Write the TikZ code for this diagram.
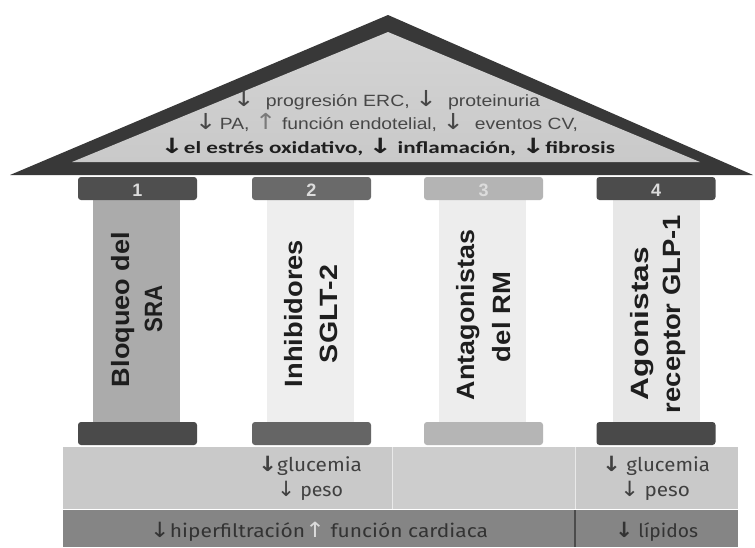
\documentclass[tikz,border=0pt]{standalone}
\usepackage{graphicx}
\usepackage{fontspec}
\setmainfont{Liberation Sans}
\newfontfamily\roofbold{Carlito}
\newfontfamily\basefont{Fira Sans}
\newfontfamily\arrowfont{DejaVu Sans}
\definecolor{roofdark}{HTML}{383838}
\definecolor{rooflight}{HTML}{C9C9C9}
\definecolor{roofhigh}{HTML}{D4D4D4}
\definecolor{roofgray}{HTML}{474747}
\definecolor{uparrow}{HTML}{7A7A7A}
\definecolor{capA}{HTML}{4F4F4F}
\definecolor{capB}{HTML}{6A6A6A}
\definecolor{capC}{HTML}{B4B4B4}
\definecolor{shaftA}{HTML}{ABABAB}
\definecolor{shaftB}{HTML}{EEEEEE}
\definecolor{shaftC}{HTML}{EDEDED}
\definecolor{shaftD}{HTML}{E7E7E7}
\definecolor{numcol}{HTML}{DCDCDC}
\definecolor{bandlight}{HTML}{C9C9C9}
\definecolor{bandlightC}{HTML}{CDCDCD}
\definecolor{banddark}{HTML}{858585}
\definecolor{basetext}{HTML}{404040}
\definecolor{darktext}{HTML}{333333}
\definecolor{pillartext}{HTML}{1E1E1E}
\newcommand{\dnar}[1]{{\arrowfont\fontsize{#1}{#1}\selectfont ↓}}
\newcommand{\dnbold}[1]{{\arrowfont\bfseries\fontsize{#1}{#1}\selectfont ↓}}
\newcommand{\upar}[2]{{\arrowfont\fontsize{#1}{#1}\selectfont\color{#2}↑}}
\newcommand{\fitw}[2]{\resizebox{#1}{\height}{#2}}
\tikzset{
  capbox/.style={rectangle, rounded corners=3pt, minimum width=119pt, minimum height=23pt, inner sep=0pt},
  shaftbox/.style={rectangle, minimum width=87pt, minimum height=222pt, inner sep=0pt},
  numtext/.style={text=numcol, font=\fontsize{18}{20}\selectfont\bfseries, anchor=base, inner sep=0pt},
  rooftext/.style={text=roofgray, font=\fontsize{16.3}{19}\selectfont, anchor=base, inner sep=0pt},
  roofboldtext/.style={text=black!88, font=\roofbold\fontsize{17}{19}\selectfont\bfseries, anchor=base, inner sep=0pt},
  basetxt/.style={text=basetext, font=\basefont\fontsize{19}{21}\selectfont, anchor=base, inner sep=0pt},
  darktxt/.style={text=darktext, font=\basefont\fontsize{18.5}{21}\selectfont, anchor=base, inner sep=0pt},
  pillartxt/.style={text=pillartext, font=\fontsize{25}{28}\selectfont\bfseries, rotate=90, anchor=base, inner sep=0pt}
}
\begin{document}
\begin{tikzpicture}[x=1pt,y=-1pt]
\useasboundingbox (0,0) rectangle (755,547);
\fill[white] (0,0) rectangle (755,547);
% roof
\fill[roofdark] (10,175) -- (388,15) -- (753,175) -- cycle;
\shade[top color=roofhigh, bottom color=rooflight] (72,162) -- (388,32) -- (700,162) -- cycle;
\node[rooftext] (r1) at (386.5,106) {\fitw{307pt}{\dnar{22}\ \ progresión ERC, \dnar{22}\ \ proteinuria}};
\node[rooftext] (r2) at (386.5,129.5) {\fitw{383pt}{\dnar{22}\,PA, \upar{22}{uparrow} función endotelial, \dnar{22}\ \ eventos CV,}};
\node[roofboldtext] (r3) at (387.5,153) {\fitw{455pt}{\dnbold{21}el estrés oxidativo, \dnbold{21} inflamación, \dnbold{21}fibrosis}};
% base bands
\fill[bandlight] (63,447) rectangle (392,509);
\fill[bandlightC] (392,447) rectangle (575,509);
\fill[bandlight] (575,447) rectangle (738,509);
\draw[white!60!bandlight, line width=0.8pt] (392,447) -- (392,509);
\draw[white!60!bandlight, line width=0.8pt] (575,447) -- (575,509);
\fill[banddark] (63,510) rectangle (738,547);
\draw[white, line width=1pt] (63,509.5) -- (738,509.5);
\coordinate (dtop) at (575,510);
\coordinate (dbot) at (575,547);
\draw[roofdark!90, line width=1.6pt] (dtop) -- (dbot);
% shafts
\node[shaftbox, fill=shaftA] (s1) at (136.5,311) {};
\node[shaftbox, fill=shaftB] (s2) at (310,311) {};
\node[shaftbox, fill=shaftC] (s3) at (482,311) {};
\node[shaftbox, fill=shaftD] (s4) at (656,311) {};
% top caps
\node[capbox, fill=capA] (t1) at (137.5,188.5) {};
\node[capbox, fill=capB] (t2) at (311.5,188.5) {};
\node[capbox, fill=capC] (t3) at (483.5,188.5) {};
\node[capbox, fill=capA!96!black] (t4) at (656,188.5) {};
\node[numtext] (n1) at (137.5,196) {1};
\node[numtext] (n2) at (311.5,196) {2};
\node[numtext] (n3) at (483.5,196) {3};
\node[numtext] (n4) at (656,196) {4};
% bottom caps
\node[capbox, fill=capA!94!black] (b1) at (137.5,433.5) {};
\node[capbox, fill=capB!95!black] (b2) at (311.5,433.5) {};
\node[capbox, fill=capC!98!white] (b3) at (483.5,433.5) {};
\node[capbox, fill=capA!92!black] (b4) at (656,433.5) {};
% pillar labels
\node[pillartxt] (p1a) at (129.5,309.5) {\fitw{155pt}{Bloqueo del}};
\node[pillartxt] (p1b) at (162,309) {\fitw{47pt}{SRA}};
\node[pillartxt] (p2a) at (302,313.5) {\fitw{147pt}{Inhibidores}};
\node[pillartxt] (p2b) at (337,314) {\fitw{98pt}{SGLT-2}};
\node[pillartxt] (p3a) at (474,315) {\fitw{170pt}{Antagonistas}};
\node[pillartxt] (p3b) at (510,317) {\fitw{90pt}{del RM}};
\node[pillartxt] (p4a) at (648,323.5) {\fitw{153pt}{Agonistas}};
\node[pillartxt] (p4b) at (680,314) {\fitw{198pt}{receptor GLP-1}};
% base texts
\node[basetxt] (g2) at (310,471.5) {\fitw{104pt}{\dnbold{21}glucemia}};
\node[basetxt] (w2) at (310,496.5) {\fitw{66pt}{\dnar{21}\ peso}};
\node[basetxt] (g4) at (656,471.5) {\fitw{108pt}{\dnbold{21}\ glucemia}};
\node[basetxt] (w4) at (655,496.5) {\fitw{70pt}{\dnar{21}\ peso}};
\node[darktxt] (hf) at (319,537) {\fitw{338pt}{\dnar{21}hiperfiltración\upar{21}{white!72!gray} función cardiaca}};
\node[darktxt] (lp) at (656.5,537) {\fitw{83pt}{\dnbold{21}\ lípidos}};
\end{tikzpicture}
\end{document}
